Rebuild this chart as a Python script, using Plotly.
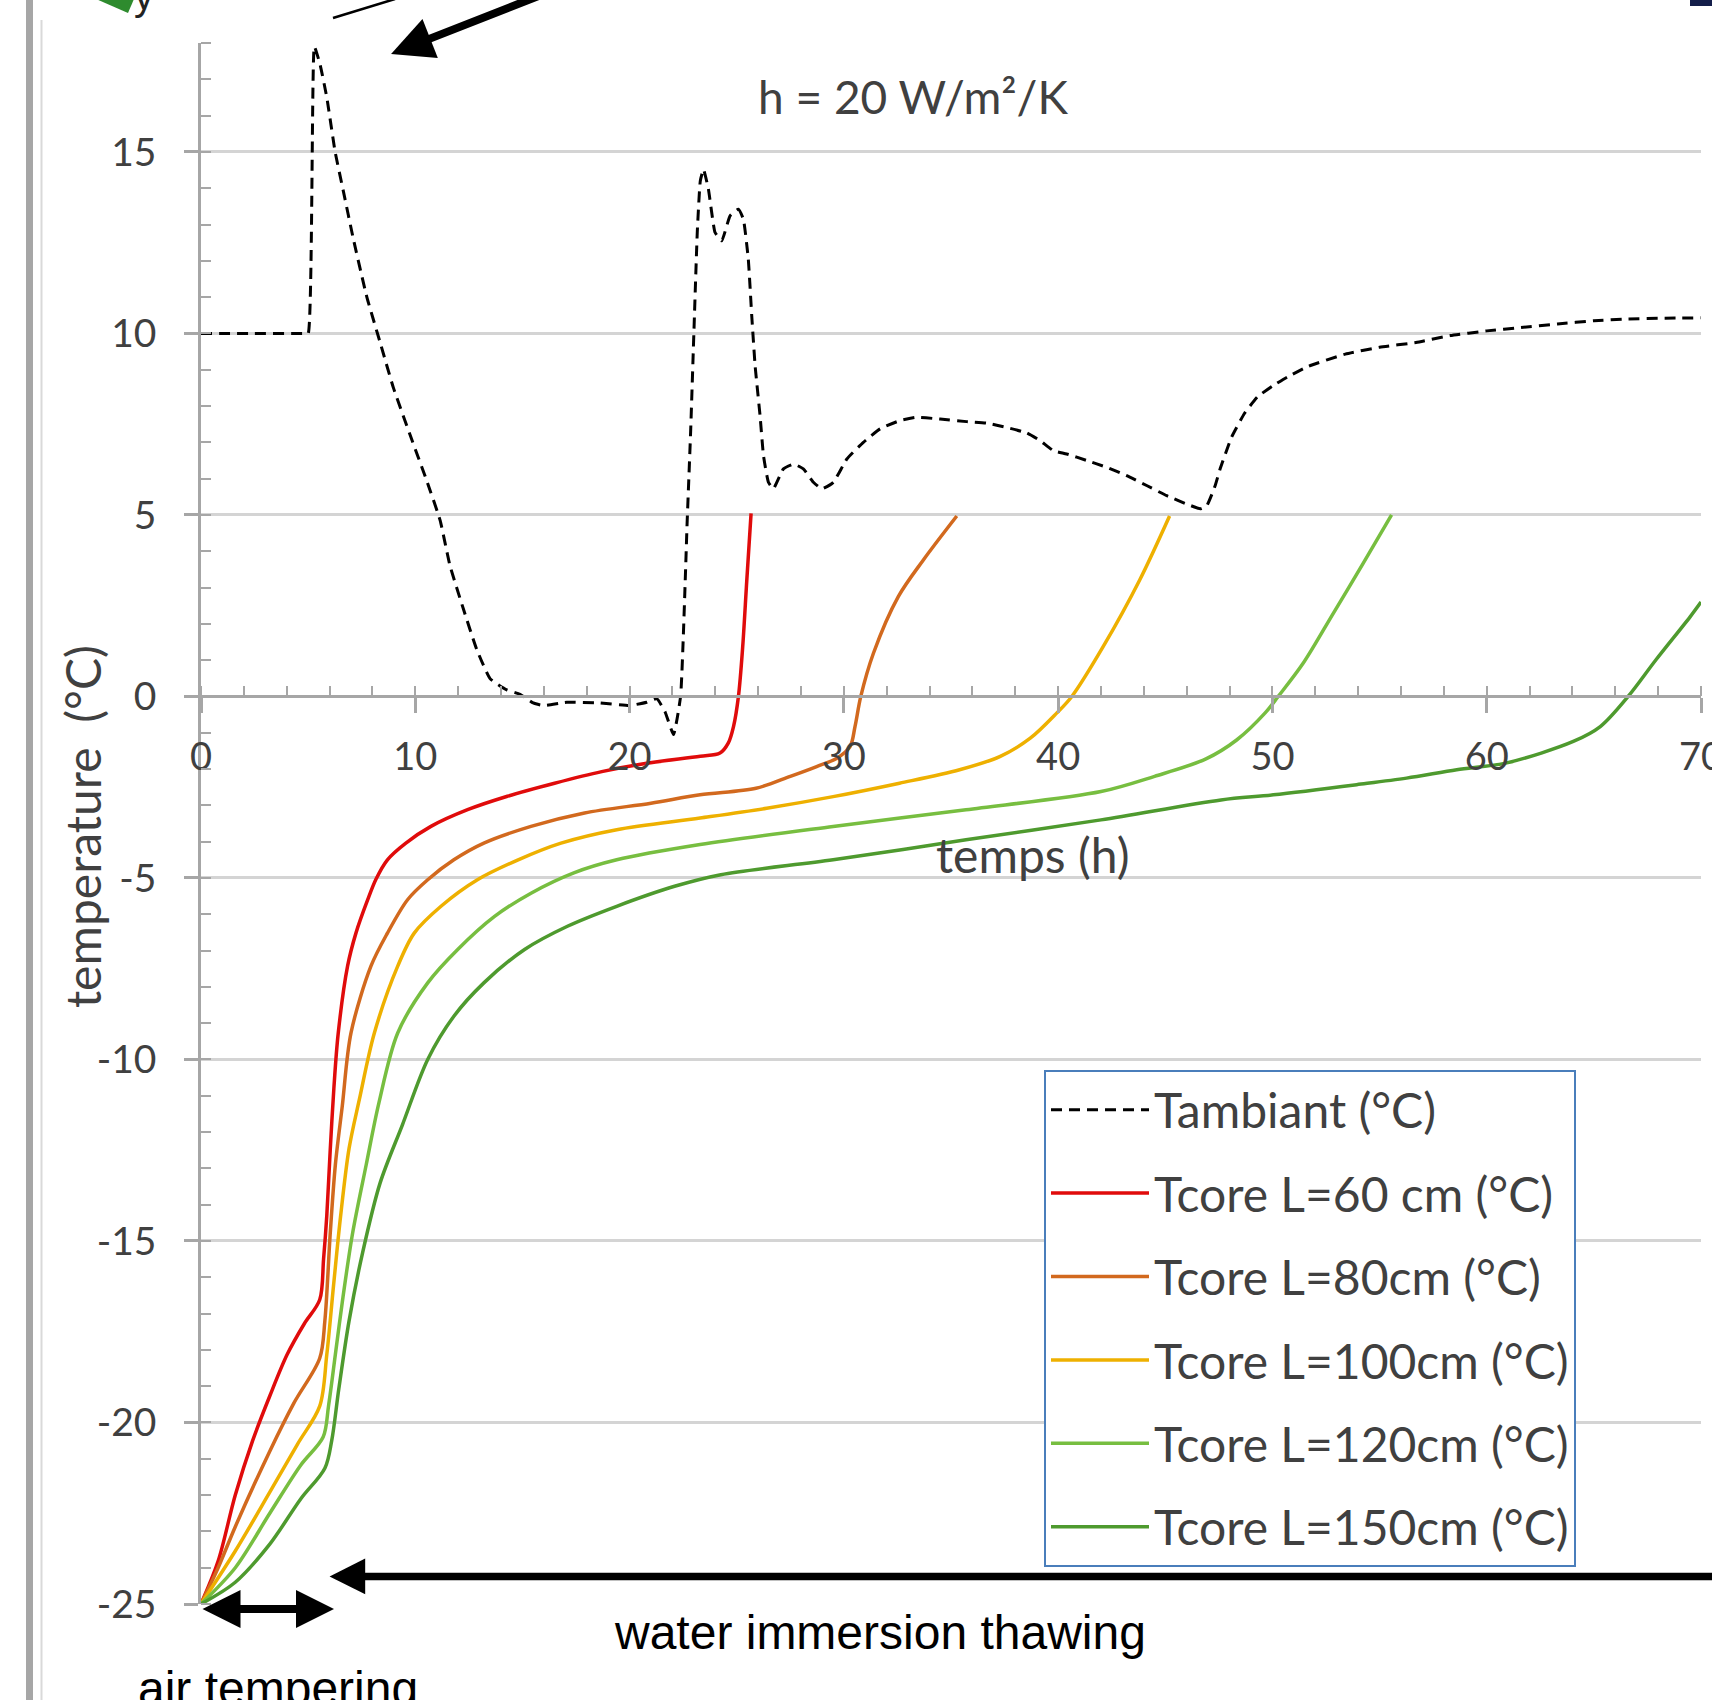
import plotly.graph_objects as go

# ---------------- data ----------------
amb_x = [0, 2.5, 4.8, 5.0, 5.29, 5.56, 5.87, 6.26, 6.65, 7.11, 7.74, 8.36, 8.98, 9.76, 10.53, 11.16, 11.62,
         12.25, 12.87, 13.49, 14.27, 14.89, 15.5, 15.98, 17.07, 18.6, 20.0, 20.8, 21.27, 21.66,
         22.05, 22.38, 22.69, 22.85, 23.0, 23.16, 23.3, 23.45, 23.68, 23.99, 24.3, 24.69, 25.08,
         25.31, 25.54, 25.7, 25.86, 26.09, 26.25, 26.48, 26.71, 27.18, 27.65, 28.11, 28.58, 28.97,
         29.51, 30.14, 30.91, 31.69, 32.62, 33.4, 34.49, 35.73, 36.67, 37.6, 38.53, 39.15, 39.78,
         40.4, 41.33, 42.27, 43.2, 44.13, 45.07, 46.0, 46.63, 46.94, 47.33, 47.56, 48.1, 48.7,
         49.3, 50.0, 50.7, 51.7, 53.4, 55.0, 56.7, 58.3, 60.0, 61.6, 63.3, 65.0, 66.6, 68.3, 70.0]
amb_y = [10, 10, 10, 10, 17.9, 17.4, 16.5, 15.0, 13.9, 12.6, 11.0, 9.75, 8.5, 7.2, 5.95, 4.85, 3.6,
         2.4, 1.29, 0.49, 0.18, 0.06, -0.18, -0.25, -0.16, -0.18, -0.25, -0.16, -0.06, -0.43,
         -1.05, 0.0, 4.85, 7.3, 10.0, 12.8, 14.2, 14.52, 13.97, 12.78, 12.55, 13.24, 13.42,
         13.15, 12.05, 10.5, 9.1, 7.73, 6.63, 5.9, 5.72, 6.27, 6.4, 6.27, 5.9, 5.72,
         5.9, 6.54, 7.0, 7.37, 7.6, 7.69, 7.64, 7.57, 7.53, 7.41, 7.26, 7.05, 6.77,
         6.68, 6.5, 6.31, 6.08, 5.81, 5.53, 5.3, 5.17, 5.26, 5.81, 6.27, 7.15, 7.8,
         8.25, 8.55, 8.8, 9.1, 9.43, 9.62, 9.75, 9.94, 10.07, 10.16, 10.26, 10.35, 10.4, 10.42, 10.43]

l60_x = [0, 0.8, 1.6, 2.41, 3.21, 4.02, 4.82, 5.54, 5.72, 5.87, 6.03, 6.2, 6.4, 6.84, 7.23, 7.78,
         8.17, 8.7, 9.56, 10.73, 12.44, 14.3, 16.5, 18.7, 20.8, 23.3, 24.22, 24.61, 24.85, 25.08,
         25.28, 25.47, 25.67]
l60_y = [-25, -23.82, -22.0, -20.5, -19.27, -18.13, -17.28, -16.62, -15.5, -14.3, -12.5, -10.8,
         -9.3, -7.43, -6.52, -5.6, -5.03, -4.5, -4.04, -3.58, -3.12, -2.75, -2.39, -2.07, -1.84,
         -1.65, -1.56, -1.28, -0.83, 0, 1.37, 3.2, 5.04]

l80_x = [0, 0.8, 1.6, 3.21, 4.34, 5.54, 5.78, 6.03, 6.27, 6.59, 7.0, 7.93, 8.7, 9.64, 10.58, 11.8,
         13.2, 15.4, 17.9, 21.0, 23.29, 25.9, 27.5, 28.73, 29.67, 30.29, 30.52, 30.79, 31.38,
         32.54, 33.71, 35.27]
l80_y = [-25, -24.0, -22.87, -20.79, -19.46, -18.23, -17.2, -14.8, -12.9, -11.3, -9.27, -7.43,
         -6.52, -5.6, -5.05, -4.5, -4.04, -3.58, -3.21, -2.94, -2.71, -2.53, -2.2, -1.93, -1.7,
         -1.38, -0.83, 0, 1.19, 2.75, 3.76, 4.97]

l100_x = [0, 1.6, 3.21, 4.5, 5.54, 5.87, 6.19, 6.51, 6.91, 7.39, 8.09, 9.18, 9.95, 11.2, 12.9,
          14.8, 16.8, 19.4, 23.29, 26.4, 29.5, 32.6, 35.4, 37.3, 38.7, 39.93, 40.64, 42.1, 43.8,
          45.2]
l100_y = [-25, -23.54, -21.92, -20.6, -19.55, -18.13, -16.2, -14.34, -12.45, -11.1, -9.27, -7.43,
          -6.52, -5.78, -5.05, -4.5, -4.04, -3.67, -3.35, -3.08, -2.76, -2.39, -2.02, -1.65,
          -1.15, -0.46, 0, 1.37, 3.2, 4.97]

l120_x = [0, 1.6, 3.21, 4.66, 5.7, 5.95, 6.27, 6.59, 7.07, 7.71, 8.3, 9.18, 10.58, 11.98, 13.7,
          15.4, 17.4, 19.4, 23.29, 29.5, 35.7, 42.0, 44.5, 46.9, 48.33, 49.65, 50.27, 51.44,
          52.84, 54.24, 55.56]
l120_y = [-25, -24.0, -22.5, -21.17, -20.4, -19.55, -18.13, -16.7, -14.8, -12.9, -11.2, -9.27,
          -7.89, -6.97, -6.06, -5.42, -4.86, -4.5, -4.08, -3.58, -3.12, -2.62, -2.2, -1.72,
          -1.2, -0.46, 0, 0.92, 2.29, 3.67, 5.0]

l150_x = [0, 1.6, 3.21, 4.66, 5.78, 6.1, 6.43, 6.91, 7.55, 8.36, 9.4, 10.58, 11.8, 13.2, 15.1,
          17.1, 19.4, 22.1, 24.26, 29.5, 35.7, 42.0, 47.6, 50.04, 53.93, 56.26, 58.6, 60.93,
          64.04, 65.3, 66.6, 67.9, 69.5, 70.0]
l150_y = [-25, -24.4, -23.35, -22.1, -21.26, -20.5, -19.08, -17.2, -15.3, -13.4, -11.8, -10.0,
          -8.81, -7.89, -6.97, -6.33, -5.78, -5.23, -4.91, -4.5, -3.95, -3.4, -2.85, -2.71,
          -2.43, -2.25, -2.02, -1.83, -1.24, -0.83, 0, 1.01, 2.2, 2.6]

series_names = ["Tambiant (°C)", "Tcore L=60 cm (°C)", "Tcore L=80cm (°C)",
                "Tcore L=100cm (°C)", "Tcore L=120cm (°C)", "Tcore L=150cm (°C)"]
series_colors = ["#000000", "#E00B0B", "#D2691E", "#EEB000", "#77BE40", "#4E9A2E"]

x_range = [0, 70]
y_range = [-25, 18]
x_ticks = [0, 10, 20, 30, 40, 50, 60, 70]
x_tick_text = ["0", "10", "20", "30", "40", "50", "60", "70"]
y_ticks = [-25, -20, -15, -10, -5, 0, 5, 10, 15]
y_tick_text = ["-25", "-20", "-15", "-10", "-5", "0", "5", "10", "15"]

# ---------------- figure geometry ----------------
W, H = 1712, 1700
ML, MR, MT, MB = 201, 11, 43, 96
PW, PH = W - ML - MR, H - MT - MB


def pxx(X):
    return (X - ML) / PW


def pxy(Y):
    return (H - MB - Y) / PH


fig = go.Figure()

xs = [amb_x, l60_x, l80_x, l100_x, l120_x, l150_x]
ys = [amb_y, l60_y, l80_y, l100_y, l120_y, l150_y]
for i, (xx, yy) in enumerate(zip(xs, ys)):
    line = dict(color=series_colors[i], width=3.5, shape="spline", smoothing=0.9)
    if i == 0:
        line.update(width=3.0, dash="11px,7px", smoothing=0.4)
    fig.add_trace(go.Scatter(x=xx, y=yy, mode="lines", name=series_names[i],
                             line=line, legendgroup=f"g{i}", hoverinfo="skip"))

font_main = "Lato, 'Open Sans', sans-serif"
axis_col = "#A6A6A6"
grid_col = "#D4D4D4"
text_col = "#404040"

x0_pos = (0 - y_range[0]) / (y_range[1] - y_range[0])

fig.update_layout(
    width=W, height=H,
    margin=dict(l=ML, r=MR, t=MT, b=MB, pad=0, autoexpand=False),
    paper_bgcolor="white", plot_bgcolor="white",
    showlegend=True,
    legend=dict(x=pxx(1044), y=pxy(1070), xanchor="left", yanchor="top",
                bgcolor="white", bordercolor="#4A7EBB", borderwidth=2,
                font=dict(family=font_main, size=48, color=text_col),
                tracegroupgap=18, itemwidth=98, traceorder="grouped"),
    xaxis=dict(range=x_range, tickvals=x_ticks, ticktext=x_tick_text, showgrid=False,
               zeroline=False, showline=True, linecolor=axis_col, linewidth=2.5,
               anchor="free", position=x0_pos, automargin=False,
               ticks="outside", ticklen=15, tickwidth=2.5, tickcolor=axis_col,
               ticklabelstandoff=11, ticklabeloverflow="allow",
               tickfont=dict(family=font_main, size=38, color=text_col),
               minor=dict(dtick=2, ticks="inside", ticklen=10, tickwidth=2.2,
                          tickcolor=axis_col, showgrid=False)),
    xaxis2=dict(range=x_range, overlaying="x", anchor="free", position=x0_pos, automargin=False,
                tickvals=x_ticks, ticks="inside", ticklen=10, tickwidth=2.5,
                tickcolor=axis_col, showticklabels=False, showgrid=False,
                zeroline=False, showline=False),
    yaxis=dict(range=y_range, tickvals=y_ticks, ticktext=y_tick_text, showgrid=True,
               gridcolor=grid_col, gridwidth=2.5, zeroline=False, showline=True,
               linecolor=axis_col, linewidth=2.5, ticks="outside", ticklen=14, tickwidth=2.5,
               tickcolor=axis_col, ticklabelstandoff=20, automargin=False,
               tickfont=dict(family=font_main, size=39, color=text_col),
               minor=dict(dtick=1, ticks="inside", ticklen=10, tickwidth=2.2,
                          tickcolor=axis_col, showgrid=False)),
    yaxis2=dict(range=y_range, overlaying="y", anchor="free", position=0, automargin=False,
                tickvals=y_ticks, ticks="inside", ticklen=14, tickwidth=2.5,
                tickcolor=axis_col, showticklabels=False, showgrid=False,
                zeroline=False, showline=False),
)

ann = []
# titles
ann.append(dict(text="temperature  (°C)", xref="paper", yref="paper", x=pxx(82), y=pxy(826),
                textangle=-90, showarrow=False, xanchor="center", yanchor="middle",
                font=dict(family=font_main, size=48, color=text_col)))
ann.append(dict(text="temps (h)", xref="paper", yref="paper", x=pxx(1032), y=pxy(854),
                showarrow=False, xanchor="center", yanchor="middle",
                font=dict(family=font_main, size=48, color=text_col)))
ann.append(dict(text="h = 20 W/m²/K", xref="paper", yref="paper", x=pxx(913), y=pxy(96),
                showarrow=False, xanchor="center", yanchor="middle",
                font=dict(family=font_main, size=46, color=text_col)))
# bottom notes
ann.append(dict(text="water immersion thawing", xref="paper", yref="paper", x=pxx(880), y=pxy(1632),
                showarrow=False, xanchor="center", yanchor="middle",
                font=dict(family="Liberation Sans, Arial, sans-serif", size=48, color="black")))
ann.append(dict(text="air tempering", xref="paper", yref="paper", x=pxx(278), y=pxy(1688),
                showarrow=False, xanchor="center", yanchor="middle",
                font=dict(family="Liberation Sans, Arial, sans-serif", size=48, color="black")))
# arrows
ann.append(dict(text="", xref="paper", yref="paper", x=pxx(334), y=pxy(1609), ax=-133, ay=0,
                showarrow=True, arrowhead=2, startarrowhead=2, arrowside="end+start",
                arrowwidth=8, arrowsize=0.95, startarrowsize=0.95, arrowcolor="black",
                standoff=0, startstandoff=0))
ann.append(dict(text="", x=6.0, y=-24.24, ax=75, ay=-24.24, xref="x", yref="y", axref="x", ayref="y",
                showarrow=True, arrowhead=2, arrowwidth=7.5, arrowsize=0.95, arrowcolor="black",
                standoff=0))
ann.append(dict(text="", x=8.87, y=17.7, ax=17.5, ay=19.7, xref="x", yref="y", axref="x", ayref="y",
                showarrow=True, arrowhead=2, arrowwidth=8, arrowsize=1.05, arrowcolor="black",
                standoff=0))
ann.append(dict(text="y", xref="paper", yref="paper", x=pxx(144), y=pxy(20), showarrow=False,
                xanchor="center", yanchor="bottom",
                font=dict(family="Liberation Sans, Arial, sans-serif", size=40, color="#222222")))
fig.update_layout(annotations=ann)

shapes = []
# left border bars of the cropped picture
shapes.append(dict(type="rect", xref="paper", yref="paper", x0=pxx(26), x1=pxx(33),
                   y0=pxy(H + 5), y1=pxy(-5), fillcolor="#A6A6A6", line=dict(width=0)))
shapes.append(dict(type="line", xref="paper", yref="paper", x0=pxx(41.5), x1=pxx(41.5),
                   y0=pxy(H + 5), y1=pxy(20), line=dict(color="#D9D9D9", width=2)))
# thin diagonal line at top
shapes.append(dict(type="line", xref="paper", yref="paper", x0=pxx(333), y0=pxy(18),
                   x1=pxx(395), y1=pxy(-1), line=dict(color="black", width=2.5)))
# green fragment at top-left
shapes.append(dict(type="path", xref="paper", yref="paper",
                   path=f"M {pxx(96)},{pxy(-1)} L {pxx(134)},{pxy(-1)} L {pxx(128)},{pxy(13)} L {pxx(112)},{pxy(6)} Z",
                   fillcolor="#2E8B2E", line=dict(width=0)))
# dark corner at top-right
shapes.append(dict(type="rect", xref="paper", yref="paper", x0=pxx(1690), x1=pxx(1715),
                   y0=pxy(6), y1=pxy(-2), fillcolor="#141E4A", line=dict(width=0)))
fig.update_layout(shapes=shapes)

fig.write_html("out.html")
